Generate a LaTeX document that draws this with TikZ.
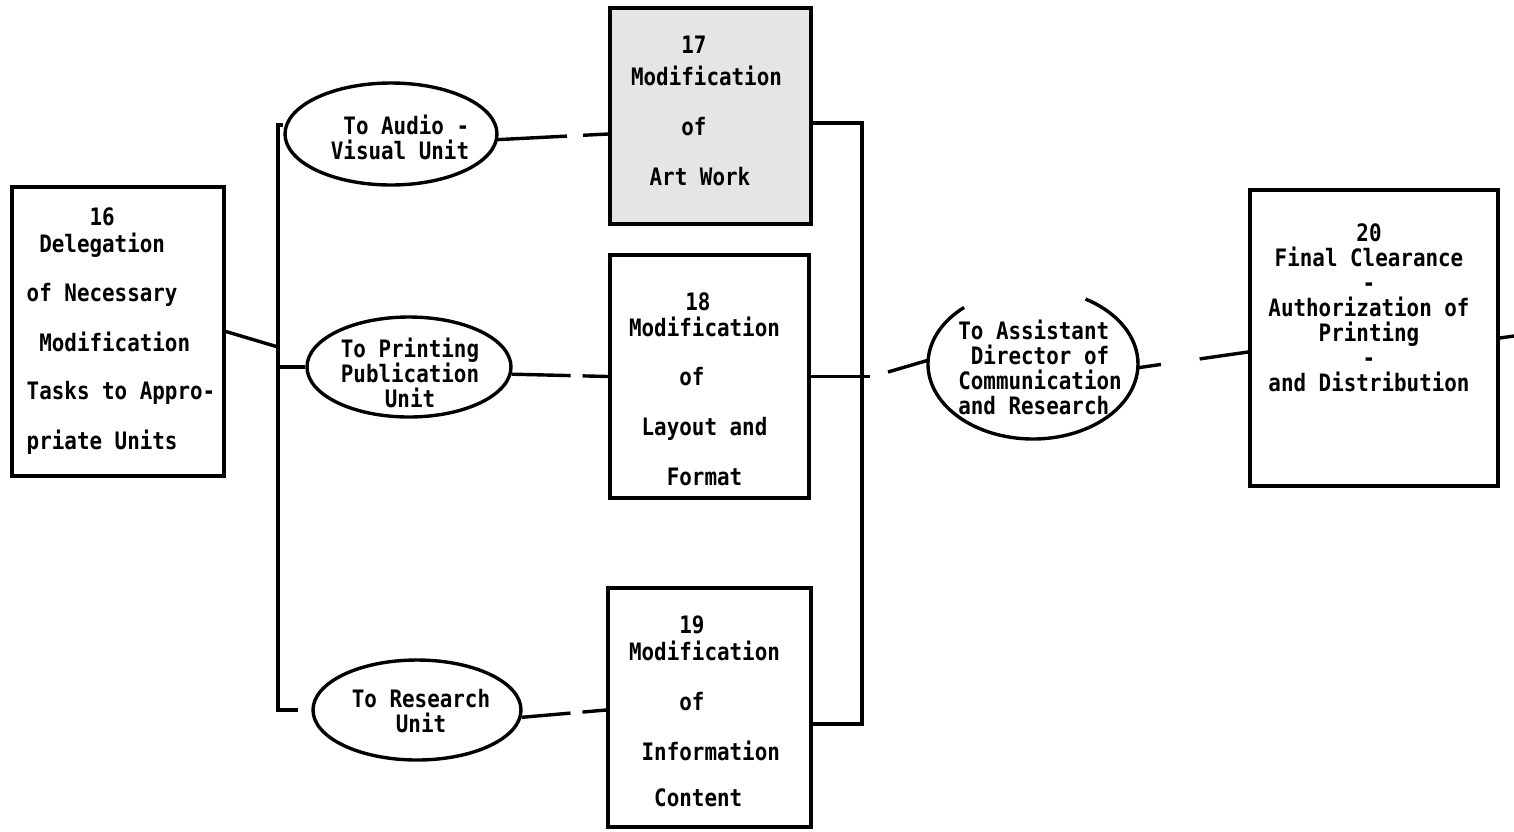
\documentclass[tikz,border=0pt]{standalone}
\usepackage{fontspec}
\newfontfamily\tw{DejaVu Sans Mono}[FakeStretch=0.87]
\usetikzlibrary{shapes.geometric}
\begin{document}
\begin{tikzpicture}[x=0.5pt,y=-0.5pt,
  box/.style={draw, rectangle, inner sep=0pt, line width=1.9pt},
  oval/.style={draw, ellipse, inner sep=0pt, line width=1.7pt},
  txt/.style={font=\fontsize{12}{12.5}\tw\bfseries, inner sep=0pt},
  conn/.style={line width=1.7pt},
]
\useasboundingbox (0,0) rectangle (1514,831);

% boxes
\node[box, minimum width=106pt, minimum height=144.5pt] (b16) at (118,331.5) {};
\node[txt, align=left] (t16) at (121,331) {\phantom{00000}16\\[1pt]\phantom{0}Delegation\\[12pt]of Necessary\\[12.5pt]\phantom{0}Modification\\[11.5pt]Tasks to Appro-\\[12.5pt]priate Units};

\node[box, fill=black!10, minimum width=100.5pt, minimum height=108pt] (b17) at (710.5,116) {};
\node[txt, align=left] (t17) at (706.5,111) {\phantom{0000}17\\[3.5pt]Modification\\[12.5pt]\phantom{0000}of\\[12.5pt]\phantom{0}\hspace*{3pt}Art Work};

\node[box, minimum width=99.5pt, minimum height=121.5pt] (b18) at (709.5,376.5) {};
\node[txt, align=left] (t18) at (704.5,389.5) {\phantom{0000}\hspace*{3pt}18\\[0.5pt]Modification\\[12pt]\phantom{0000}of\\[12.5pt]\phantom{0}Layout and\\[12.5pt]\phantom{000}Format};

\node[box, minimum width=101.5pt, minimum height=119.5pt] (b19) at (709.5,707.5) {};
\node[txt, align=left] (t19) at (704.5,711.5) {\phantom{0000}19\\[1pt]Modification\\[12.5pt]\phantom{0000}of\\[12.5pt]\phantom{0}Information\\[10.5pt]\phantom{00}Content};

\node[box, minimum width=124pt, minimum height=148pt] (b20) at (1374,338) {};
\node[txt, align=center] (t20) at (1369,307.5) {20\\Final Clearance\\-\\Authorization of\\Printing\\-\\and Distribution};

% ellipses
\node[oval, minimum width=106pt, minimum height=51pt] (e1) at (391,134) {};
\node[txt, align=right] (te1) at (400,137) {To Audio -\\Visual Unit};
\node[oval, minimum width=102pt, minimum height=50pt] (e2) at (409,367) {};
\node[txt, align=center] (te2) at (410,373) {To Printing\\Publication\\Unit};
\node[oval, minimum width=104pt, minimum height=50pt] (e3) at (417,710) {};
\node[txt, align=center] (te3) at (421,711) {To Research\\Unit};
\node[ellipse, inner sep=0pt, minimum width=105pt, minimum height=75pt] (e4) at (1033,364) {};
\draw[conn] ([shift={(131:52.5pt and 37.5pt)}]e4.center) arc[start angle=131, end angle=420, x radius=52.5pt, y radius=37.5pt];
\node[txt, align=left] (te4) at (1040,367.5) {To Assistant\\\phantom{0}Director of\\Communication\\and Research};

% junctions
\coordinate (jtl) at (278,125);
\coordinate (jbl) at (278,710);
\coordinate (jb3) at (298,710);
\coordinate (j16) at (278,347);
\coordinate (j2) at (278,367);
\coordinate (rtop) at (862,123);
\coordinate (rbot) at (862,724);
\coordinate (c18r) at (870,376.5);
\coordinate (c4l) at (888,372);
\coordinate (cexit) at (1514,336);

% connectors
\draw[conn] (e1.west |- jtl) -- (jtl) -- (jbl) -- (jb3);
\draw[conn] (b16.east) -- (j16);
\draw[conn] (j2) -- (e2.west);
\draw[conn, dash pattern=on 34.5pt off 8pt on 40pt] (e1.-3) -- (b17.west |- e1.east);
\draw[conn, dash pattern=on 29.5pt off 6pt on 40pt] (e2.-4) -- (b18.west);
\draw[conn, dash pattern=on 24.5pt off 6pt on 40pt] (e3.-4) -- (b19.west |- e3.east);
\draw[conn] (b17.east |- rtop) -- (rtop) -- (rbot) -- (b19.east |- rbot);
\draw[conn] (b18.east) -- (c18r);
\draw[conn] (c4l) -- (e4.178);
\draw[conn, dash pattern=on 11.5pt off 19.5pt on 40pt] (e4.-2) -- ([yshift=-7pt]b20.west);
\draw[conn] (b20.east) -- (cexit);
\end{tikzpicture}
\end{document}
